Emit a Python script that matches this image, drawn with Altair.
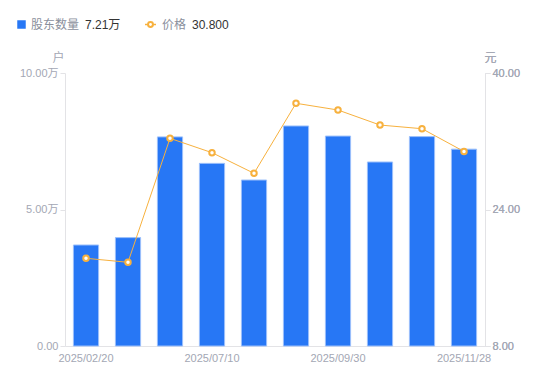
import altair as alt
import pandas as pd

dates = ["2025/02/20", "2025/03/31", "2025/06/30", "2025/07/10", "2025/08/20",
         "2025/08/31", "2025/09/30", "2025/10/20", "2025/10/31", "2025/11/28"]
holders = [37000, 39700, 76600, 66900, 60800, 80600, 76900, 67400, 76700, 72100]
prices = [18.28, 17.81, 32.34, 30.66, 28.24, 36.45, 35.66, 33.90, 33.47, 30.80]
x_label_dates = [dates[0], dates[3], dates[6], dates[9]]
left_ticks = [0, 50000, 100000]
right_ticks = [8, 24, 40]

df = pd.DataFrame({"date": dates, "holders": holders, "price": prices})
one = pd.DataFrame({"k": [0]})

FONT = "Liberation Sans, Noto Sans CJK SC, sans-serif"
gray = "#a3a7b4"
axis_line = "#e3e3e6"
blue = "#2777F5"
orange = "#F7B13E"

x = alt.X("date:N", sort=dates,
          scale=alt.Scale(paddingInner=0.4, paddingOuter=0.2),
          axis=alt.Axis(values=x_label_dates, title=None, labelAngle=0, ticks=False,
                        domainColor=axis_line, labelColor=gray, labelFontSize=11,
                        labelPadding=6, grid=False, labelFont=FONT))

bars = alt.Chart(df).mark_bar(color=blue, stroke="#9cc0fb", strokeWidth=1).encode(
    x=x,
    y=alt.Y("holders:Q",
            scale=alt.Scale(domain=[0, 100000], nice=False, zero=True),
            axis=alt.Axis(values=left_ticks,
                          labelExpr="datum.value == 0 ? '0.00' : format(datum.value/10000, '.2f') + '万'",
                          title="户", titleAngle=0, titleX=-7, titleY=-16,
                          titleAlign="center", titleBaseline="middle",
                          titleColor=gray, titleFontSize=12, titleFontWeight="normal",
                          titleFont=FONT,
                          labelColor=gray, labelFontSize=11, labelFont=FONT,
                          tickColor=axis_line, tickSize=5, labelPadding=2,
                          domainColor=axis_line, grid=False)),
)

price_y = alt.Y("price:Q",
                scale=alt.Scale(domain=[8, 40], nice=False, zero=False),
                axis=alt.Axis(orient="right", values=right_ticks, format=".2f",
                              title="元", titleAngle=0, titleX=5, titleY=-16,
                              titleAlign="center", titleBaseline="middle",
                              titleColor=gray, titleFontSize=12, titleFontWeight="normal",
                              titleFont=FONT,
                              labelColor=gray, labelFontSize=11, labelFont=FONT,
                              tickColor=axis_line, tickSize=5, labelPadding=2,
                              domainColor=axis_line, grid=False))

line = alt.Chart(df).mark_line(color=orange, strokeWidth=1).encode(x=x, y=price_y)
pts = alt.Chart(df).mark_point(shape="circle", filled=True, fill="white", stroke=orange,
                               strokeWidth=2, size=30, opacity=1).encode(x=x, y=price_y)

ly = -48.5
leg_sq = alt.Chart(one).mark_point(shape="square", filled=True, color=blue, size=72, opacity=1).encode(
    x=alt.value(-43.5), y=alt.value(ly))
leg_t1 = alt.Chart(one).mark_text(text="股东数量", align="left", baseline="middle", fontSize=12,
                                  color="#8a8f9c", font=FONT).encode(x=alt.value(-34), y=alt.value(ly))
leg_v1 = alt.Chart(one).mark_text(text=f"{holders[-1]/10000:.2f}万", align="left", baseline="middle",
                                  fontSize=12, color="#333333", font=FONT).encode(x=alt.value(20), y=alt.value(ly))
leg_ln = alt.Chart(one).mark_rule(color=orange, strokeWidth=1.5).encode(
    x=alt.value(80), x2=alt.value(91), y=alt.value(ly))
leg_pt = alt.Chart(one).mark_point(shape="circle", filled=True, fill="white", stroke=orange,
                                   strokeWidth=2, size=24, opacity=1).encode(x=alt.value(85.5), y=alt.value(ly))
leg_t2 = alt.Chart(one).mark_text(text="价格", align="left", baseline="middle", fontSize=12,
                                  color="#8a8f9c", font=FONT).encode(x=alt.value(97), y=alt.value(ly))
leg_v2 = alt.Chart(one).mark_text(text=f"{prices[-1]:.3f}", align="left", baseline="middle",
                                  fontSize=12, color="#333333", font=FONT).encode(x=alt.value(127), y=alt.value(ly))

main = alt.layer(bars, line, pts).resolve_scale(y="independent")
chart = alt.layer(main, leg_sq, leg_t1, leg_v1, leg_ln, leg_pt, leg_t2, leg_v2).properties(
    width=420, height=273,
    padding={"left": 57, "top": 65, "right": 50, "bottom": 25},
    autosize=alt.AutoSizeParams(type="none"),
).configure_view(stroke=None)

chart.save("out.html", embed_options={"renderer": "svg", "actions": False})
